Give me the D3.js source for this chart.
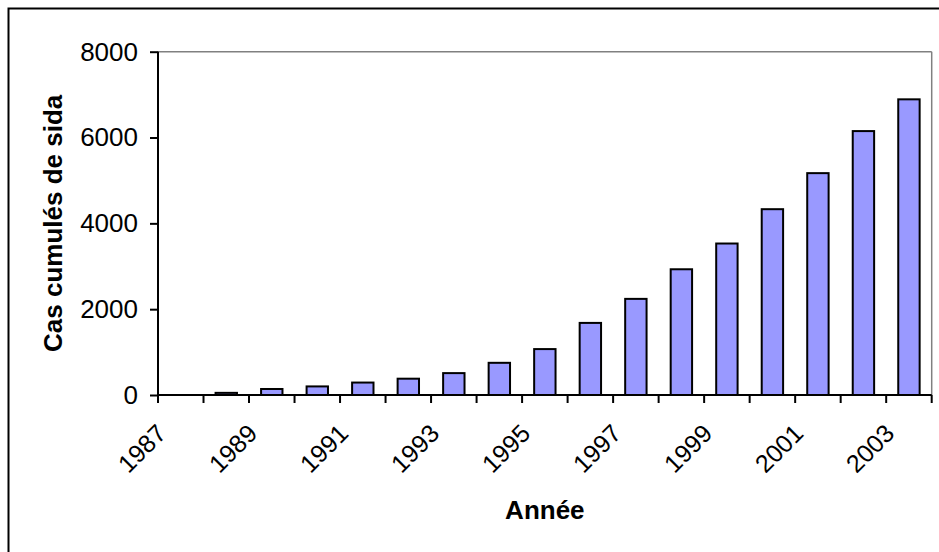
<!DOCTYPE html>
<html>
<head>
<meta charset="utf-8">
<script src="https://cdn.jsdelivr.net/npm/d3@7"></script>
<style>
  html, body { margin: 0; padding: 0; background: #fff; }
  svg { display: block; }
  text { font-family: Arial, "Liberation Sans", sans-serif; fill: #000; }
</style>
</head>
<body>
<svg id="chart" width="939" height="552"></svg>
<script>
const years = ["1987","1988","1989","1990","1991","1992","1993","1994","1995","1996","1997","1998","1999","2000","2001","2002","2003"];
const cases = [0, 50, 140, 200, 290, 380, 510, 750, 1070, 1680, 2240, 2930, 3530, 4330, 5170, 6150, 6890];
const yTicks = [0, 2000, 4000, 6000, 8000];
const xLabels = ["1987","1989","1991","1993","1995","1997","1999","2001","2003"];
const yTitle = "Cas cumulés de sida";
const xTitle = "Année";

(function () {
const svg = d3.select("#chart");
const pLeft = 158, pRight = 931.7, pTop = 51.7, pBottom = 395;

// outer frame (extends beyond right/bottom edges)
svg.append("rect")
  .attr("x", 8.5).attr("y", 8.5).attr("width", 1000).attr("height", 1000)
  .attr("fill", "#fff").attr("stroke", "#000").attr("stroke-width", 2);

const xBand = d3.scaleBand().domain(years).range([pLeft, pRight]).paddingInner(0).paddingOuter(0);
const barScale = d3.scaleBand().domain(years).range([pLeft, pRight]).paddingInner(0.53).paddingOuter(0.265);
const y = d3.scaleLinear().domain([0, 8000]).range([pBottom, pTop]);

// plot area border: top and right gray
svg.append("line").attr("x1", pLeft).attr("x2", pRight).attr("y1", y(8000)).attr("y2", y(8000))
  .attr("stroke", "#808080").attr("stroke-width", 1.5);
svg.append("line").attr("x1", pRight).attr("x2", pRight).attr("y1", y(8000)).attr("y2", pBottom)
  .attr("stroke", "#808080").attr("stroke-width", 1.5);

// bars
svg.append("g").selectAll("rect")
  .data(years.map((yr, i) => ({ yr, v: cases[i] })).filter(d => d.v > 0))
  .join("rect")
  .attr("x", d => barScale(d.yr))
  .attr("width", barScale.bandwidth())
  .attr("y", d => y(d.v))
  .attr("height", d => y(0) - y(d.v))
  .attr("fill", "#9999FF")
  .attr("stroke", "#000")
  .attr("stroke-width", 2);

// y axis
const yAxis = d3.axisLeft(y).tickValues(yTicks).tickSize(8).tickPadding(12).tickFormat(d3.format("d"));
const gy = svg.append("g").attr("transform", `translate(${pLeft},0)`).call(yAxis);
gy.select(".domain").attr("stroke", "#000").attr("stroke-width", 2).attr("d", `M0,${pTop}V${pBottom}`);
gy.selectAll(".tick line").attr("stroke", "#000").attr("stroke-width", 2);
gy.selectAll(".tick text").style("font-size", "26px").attr("font-family", "Arial, 'Liberation Sans', sans-serif");

// x axis baseline and ticks at category boundaries
const boundaries = years.map(yr => xBand(yr)).concat([pRight]);
svg.append("line").attr("x1", pLeft).attr("x2", pRight).attr("y1", pBottom).attr("y2", pBottom)
  .attr("stroke", "#000").attr("stroke-width", 2);
svg.append("g").selectAll("line").data(boundaries).join("line")
  .attr("x1", d => d).attr("x2", d => d)
  .attr("y1", pBottom).attr("y2", pBottom + 8)
  .attr("stroke", "#000").attr("stroke-width", 2);

// rotated x labels
svg.append("g").selectAll("text").data(xLabels).join("text")
  .attr("transform", d => `translate(${xBand(d) + xBand.bandwidth() / 2 - 13},${pBottom + 40}) rotate(-45)`)
  .attr("text-anchor", "end")
  .style("font-size", "25px")
  .text(d => d);

// axis titles
svg.append("text")
  .attr("transform", `translate(61.5,${(pTop + pBottom) / 2}) rotate(-90)`)
  .attr("text-anchor", "middle")
  .style("font-size", "26px").style("font-weight", "bold")
  .text(yTitle);

svg.append("text")
  .attr("x", (pLeft + pRight) / 2).attr("y", 519)
  .attr("text-anchor", "middle")
  .style("font-size", "26px").style("font-weight", "bold")
  .text(xTitle);
})();
</script>
</body>
</html>
